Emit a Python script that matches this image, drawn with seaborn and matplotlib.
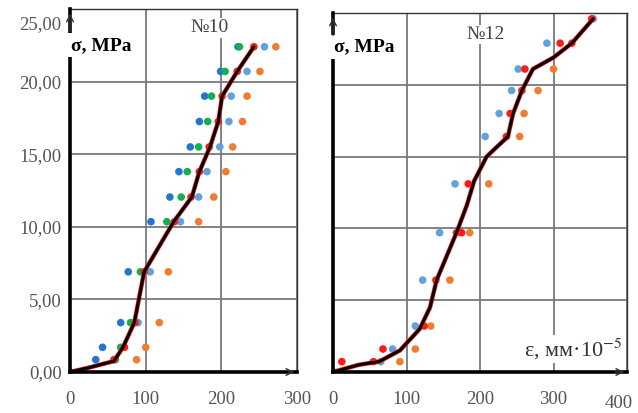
import numpy as np
import pandas as pd
import matplotlib
matplotlib.use("Agg")
import matplotlib.pyplot as plt
import matplotlib.transforms as mtransforms
import seaborn as sns

sns.set_theme(style="white")
plt.rcParams['font.family'] = ['Liberation Serif', 'DejaVu Serif']
plt.rcParams['mathtext.fontset'] = 'stix'

nan = np.nan
# ---- Sample №10 ----
sigma10 = [0, 0.85, 1.7, 3.4, 6.9, 10.35, 12.05, 13.8, 15.5, 17.25, 19.0, 20.7, 22.4]
blue10 = [0, 34, 43, 67, 77, 107, 132, 144, 159, 171, 178, 199, 222]
green10 = [0, 60, 67, 80, 93, 128, 147, 155, 170, 182, 187, 205, 224]
lblue10 = [0, nan, nan, 90, 106, 146, 170, 181, 198, 210, 213, 234, 257]
orange10 = [0, 88, 100, 118, 130, 170, 190, 206, 215, 228, 234, 251, 272]
red10 = [0, 58, 72, 86, 98, 138, 160, 171, 184, 196, 201, 221, 243]
mean10_eps = [0, 25, 58, 70, 85, 98, 137, 161, 171, 185, 196, 201, 221, 243]
mean10_sig = [0, 0.3, 0.75, 1.7, 3.4, 6.9, 10.35, 12.05, 13.8, 15.5, 17.25, 19.0, 20.7, 22.4]

# ---- Sample №12 ----
sigma12 = [0, 0.72, 1.6, 3.2, 6.4, 9.7, 13.1, 16.4, 18.0, 19.6, 21.1, 22.9, 24.6]
blue12 = [0, 65, 81, 112, 122, 145, 166, 207, 226, 243, 252, 291, 354]
red12 = [0, 12, 68, 124, 140, 168, 184, 236, 241, 257, 261, 309, 352]
red12b = [nan, 55, nan, nan, nan, 175, nan, nan, nan, nan, nan, 325, nan]
orange12 = [0, 91, 112, 133, 159, 186, 212, 254, 260, 279, 300, nan, nan]
mean12_eps = [0, 35, 63, 91, 118, 132, 141, 168, 182, 192, 209, 238, 245, 257, 272, 300, 325, 354]
mean12_sig = [0, 0.5, 0.73, 1.5, 3.0, 4.5, 6.4, 9.7, 11.6, 13.3, 15.0, 16.4, 18.0, 19.6, 21.1, 21.9, 22.9, 24.6]

C_BLUE = "#2276d2"
C_LBLUE = "#5fa2e0"
C_GREEN = "#12b050"
C_ORANGE = "#ee7d31"
C_RED = "#ff1a1a"

fig = plt.figure(figsize=(6.38, 4.13), dpi=100)
ax1 = fig.add_axes([70/638, 41/413, 227/638, 363/413])
ax2 = fig.add_axes([333/638, 41/413, 294/638, 359/413])

def scatter(ax, xs, ys, color):
    df = pd.DataFrame({"e": xs, "s": ys}).dropna()
    sns.scatterplot(data=df, x="e", y="s", ax=ax, color=color, s=30,
                    edgecolor="none", zorder=3, legend=False)

def meanline(ax, xs, ys):
    df = pd.DataFrame({"e": xs, "s": ys})
    sns.lineplot(data=df, x="e", y="s", ax=ax, sort=False, estimator=None,
                 color=C_RED, lw=3.2, zorder=4)
    sns.lineplot(data=df, x="e", y="s", ax=ax, sort=False, estimator=None,
                 color="black", lw=2.2, zorder=5)

scatter(ax1, blue10, sigma10, C_BLUE)
scatter(ax1, green10, sigma10, C_GREEN)
scatter(ax1, lblue10, sigma10, C_LBLUE)
scatter(ax1, orange10, sigma10, C_ORANGE)
scatter(ax1, red10, sigma10, C_RED)
meanline(ax1, mean10_eps, mean10_sig)

scatter(ax2, blue12, sigma12, C_LBLUE)
scatter(ax2, orange12, sigma12, C_ORANGE)
scatter(ax2, red12, sigma12, C_RED)
scatter(ax2, red12b, sigma12, C_RED)
meanline(ax2, mean12_eps, mean12_sig)

for ax, xmax, ylab in ((ax1, 300, 0.90), (ax2, 400, 0.905)):
    ax.set_xlim(0, xmax)
    ax.set_ylim(0, 25)
    ax.set_xticks(np.arange(0, xmax + 1, 100))
    ax.set_yticks(np.arange(0, 26, 5))
    ax.set_xlabel("")
    ax.set_ylabel("")
    ax.grid(True, color="#7a7a7a", lw=1.3)
    ax.set_axisbelow(True)
    for side in ("top", "right"):
        ax.spines[side].set_color("#333333")
        ax.spines[side].set_linewidth(1.0)
    for side in ("left", "bottom"):
        ax.spines[side].set_color("black")
        ax.spines[side].set_linewidth(2.6)
        ax.spines[side].set_zorder(6)
    ax.tick_params(axis="both", length=0, labelsize=13.5, labelcolor="#555555")
    ax.tick_params(axis="x", pad=14)
    ax.tick_params(axis="y", pad=6)
    # axis arrows
    ax.annotate("", xy=(1.0, 0), xytext=(0.95, 0), xycoords="axes fraction",
                arrowprops=dict(arrowstyle="->", color="#333333", lw=1.0), zorder=7)
    ax.annotate("", xy=(0, 0.995), xytext=(0, 0.93), xycoords="axes fraction",
                arrowprops=dict(arrowstyle="->", color="#333333", lw=1.0), zorder=8)
    ax.text(0.005, ylab, "σ, MPa", transform=ax.transAxes, fontsize=14,
            fontweight="bold", color="black", ha="left", va="center",
            bbox=dict(facecolor="white", edgecolor="none", pad=2.5), zorder=7)

ax1.set_yticklabels([f"{v:.2f}".replace(".", ",") for v in np.arange(0, 26, 5)])
ax2.set_yticklabels([])

# small offsets of individual tick labels as in the reference
lbl25 = ax1.get_yticklabels()[-1]
lbl25.set_transform(lbl25.get_transform() +
                    mtransforms.ScaledTranslation(0, -10/72, fig.dpi_scale_trans))
lbl400 = ax2.get_xticklabels()[-1]
lbl400.set_transform(lbl400.get_transform() +
                     mtransforms.ScaledTranslation(-6/72, -2.5/72, fig.dpi_scale_trans))

ax1.text(185, 23.7, "№10", fontsize=14, color="#444444", ha="center", va="center",
         bbox=dict(facecolor="white", edgecolor="none", pad=1), zorder=7)
ax2.text(208, 23.5, "№12", fontsize=14, color="#444444", ha="center", va="center",
         bbox=dict(facecolor="white", edgecolor="none", pad=1), zorder=7)
ax2.text(0.985, 0.028, "ε, мм·10$^{-5}$", transform=ax2.transAxes, fontsize=16,
         color="#333333", ha="right", va="bottom",
         bbox=dict(facecolor="white", edgecolor="none", pad=1), zorder=7)

fig.savefig("out.png", dpi=100)
